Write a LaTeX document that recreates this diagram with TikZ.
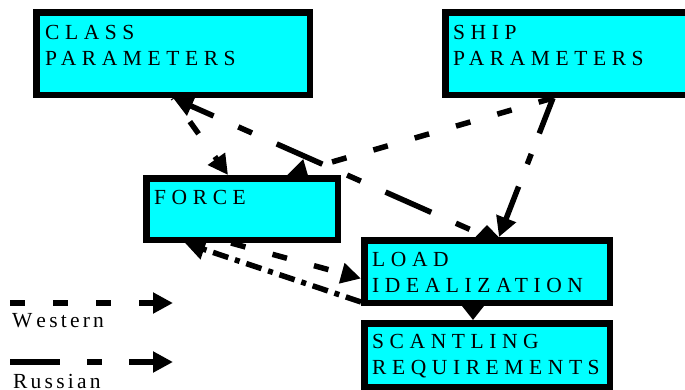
\documentclass[tikz,border=0pt]{standalone}
\usepackage{fontspec}
\setmainfont{Liberation Serif}
\newfontfamily\spacedfont[LetterSpace=26]{Liberation Serif}
\newfontfamily\keyfont[LetterSpace=15]{Liberation Serif}
\usetikzlibrary{arrows.meta,backgrounds}

\definecolor{boxcyan}{RGB}{0,255,255}

\tikzset{
  block/.style={draw, line width=6.5pt, fill=boxcyan, inner sep=0pt,
    outer sep=3.25pt, anchor=north west},
  caption/.style={font=\spacedfont\fontsize{21.5}{26.5}\selectfont,
    align=left, anchor=north west, inner sep=0pt},
  keytext/.style={caption, font=\keyfont\fontsize{21.5}{26.5}\selectfont},
  flow/.style={line width=5.5pt, -{Triangle[length=20pt,width=20pt]}},
  western/.style={flow, dash pattern=on 15pt off 28pt},
  russian/.style={flow, dash pattern=on 50pt off 27pt on 15pt off 27pt},
  mixed/.style={flow, dash pattern=on 16pt off 7pt on 5pt off 7pt},
}

\begin{document}
\begin{tikzpicture}[x=1pt, y=-1pt]
    \useasboundingbox (0,0) rectangle (685,389);
    \clip (0,0) rectangle (685,389);

    % Blocks (outer corner given, the ship block runs off the right edge)
    \node[block, minimum width=273.5pt, minimum height=82.5pt] (cls) at (33,9) {};
    \node[block, minimum width=262pt,   minimum height=82.5pt] (shp) at (442,9) {};
    \node[block, minimum width=191.5pt, minimum height=61.5pt] (frc) at (143,175) {};
    \node[block, minimum width=245.5pt, minimum height=62.5pt] (ld)  at (361,237) {};
    \node[block, minimum width=245.5pt, minimum height=63.5pt] (scn) at (361,320) {};

    \node[caption] (cls-t) at (45,25)   {CLASS\\PARAMETERS};
    \node[caption] (shp-t) at (453,25)  {SHIP\\PARAMETERS};
    \node[caption] (frc-t) at (154,190) {FORCE};
    \node[caption] (ld-t)  at (372,252) {LOAD\\IDEALIZATION};
    \node[caption] (scn-t) at (372,334) {SCANTLING\\REQUIREMENTS};

    % Legend
    \coordinate (w0) at (10,303);
    \coordinate (w1) at (173,303);
    \draw[western] (w0) -- (w1);
    \node[keytext] (w-t) at (12,313) {W\kern4pt estern};
    \coordinate (r0) at (10,362);
    \coordinate (r1) at (173,362);
    \draw[russian] (r0) -- (r1);
    \node[keytext] (r-t) at (13,374) {Russian};

    % Flows run under the blocks
    \begin{scope}[on background layer]
        \draw[western, dash phase=14pt] (cls.south) -- ([xshift=85pt]frc.north west);
        \draw[western] ([xshift=111pt]shp.south west) -- ([xshift=144pt]frc.north west);
        \draw[russian, dash pattern=on 38pt off 22pt on 11pt off 24pt]
            ([xshift=111pt]shp.south west) -- ([xshift=138pt]ld.north west);
        \draw[russian, dash phase=58pt] (ld.north) -- (cls.south);
        \fill ([xshift=-11.5pt]ld.north) -- ([yshift=12pt]ld.north)
            -- ([xshift=11.5pt]ld.north) -- cycle;
        \draw[western] ([xshift=88pt]frc.south west) -- ([yshift=-7pt]ld.west);
        \draw[mixed] ([yshift=4pt]ld.south west) -- ([xshift=42pt]frc.south west);
        \draw[flow, -{Triangle[length=14pt,width=21pt]}]
            ([xshift=-14pt]ld.south) -- ([xshift=-14pt]scn.north);
    \end{scope}
\end{tikzpicture}
\end{document}
